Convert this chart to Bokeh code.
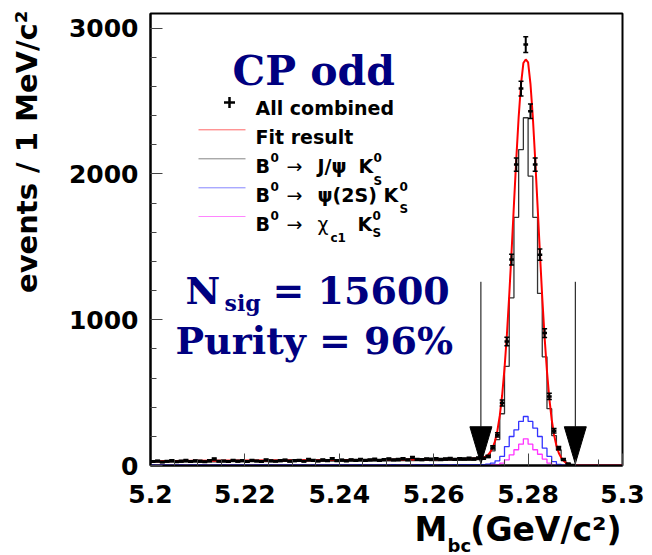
import numpy as np
from bokeh.plotting import figure
from bokeh.models import Label, Range1d, FixedTicker, NumeralTickFormatter
from bokeh.embed import file_html
from bokeh.resources import INLINE

# ---------------- data ----------------
bin_edges = np.round(np.linspace(5.2, 5.3, 101), 4)
bin_centers = (bin_edges[:-1] + bin_edges[1:]) / 2

data_counts = [
    27, 31, 24, 29, 33, 26, 30, 35, 28, 32,
    30, 26, 34, 45, 29, 31, 27, 36, 30, 33,
    28, 35, 31, 27, 38, 32, 29, 34, 37, 30,
    33, 36, 29, 41, 35, 31, 38, 33, 46, 34,
    37, 32, 39, 36, 41, 35, 38, 43, 36, 40,
    44, 38, 41, 47, 39, 55, 42, 40, 45, 43,
    46, 41, 44, 48, 42, 47, 45, 49, 44, 51,
    50, 62, 124, 210, 428, 851, 1412, 2064, 2585, 2887,
    2430, 2064, 1446, 908, 474, 238, 119, 41, 12, 3,
    0, 0, 0, 0, 0, 0, 0, 0, 0, 0]

jpsi_ks = [
    22, 23, 22, 24, 23, 23, 24, 24, 23, 25,
    24, 25, 24, 25, 26, 25, 25, 26, 25, 26,
    26, 27, 26, 27, 27, 26, 28, 27, 28, 28,
    27, 29, 28, 29, 28, 30, 29, 29, 30, 29,
    30, 31, 30, 31, 31, 30, 32, 31, 32, 32,
    32, 33, 32, 33, 34, 33, 33, 34, 35, 34,
    34, 35, 35, 36, 35, 36, 37, 36, 37, 40,
    42, 55, 100, 178, 355, 680, 1150, 1702, 2167, 2385,
    1985, 1702, 1180, 745, 390, 205, 105, 35, 12, 3,
    0, 0, 0, 0, 0, 0, 0, 0, 0, 0]

psi2s_ks = [
    4, 3, 4, 4, 3, 4, 4, 3, 4, 4,
    4, 4, 3, 4, 4, 4, 3, 4, 4, 4,
    4, 3, 4, 4, 4, 4, 3, 4, 4, 4,
    4, 4, 4, 3, 4, 4, 4, 4, 4, 4,
    4, 4, 4, 4, 5, 4, 4, 4, 4, 4,
    4, 5, 4, 4, 4, 4, 5, 4, 4, 5,
    4, 5, 5, 4, 5, 5, 5, 5, 5, 5,
    6, 10, 16, 32, 62, 130, 199, 245, 302, 336,
    302, 256, 199, 119, 62, 27, 8, 2, 0, 0,
    0, 0, 0, 0, 0, 0, 0, 0, 0, 0]

chic1_ks = [
    1, 1, 2, 1, 1, 1, 2, 1, 1, 1,
    1, 2, 1, 1, 1, 1, 2, 1, 1, 1,
    1, 1, 2, 1, 1, 1, 1, 2, 1, 1,
    1, 2, 1, 1, 1, 2, 1, 1, 1, 2,
    1, 1, 2, 1, 1, 2, 1, 1, 2, 1,
    2, 1, 1, 2, 1, 2, 1, 2, 1, 2,
    2, 1, 2, 2, 1, 2, 2, 2, 2, 2,
    2, 3, 4, 6, 16, 39, 73, 108, 146, 183,
    146, 108, 77, 44, 16, 3, 1, 0, 0, 0,
    0, 0, 0, 0, 0, 0, 0, 0, 0, 0]

fit_x = [5.200, 5.210, 5.220, 5.230, 5.240, 5.250, 5.260, 5.265, 5.268, 5.270,
         5.2710, 5.2715, 5.2720, 5.2725, 5.2730, 5.2735, 5.2740, 5.2745, 5.2750, 5.2755,
         5.2760, 5.2765, 5.2770, 5.2775, 5.2780, 5.2785, 5.2790, 5.2795, 5.2800, 5.2805,
         5.2810, 5.2815, 5.2820, 5.2825, 5.2830, 5.2835, 5.2840, 5.2845, 5.2850, 5.2855,
         5.2860, 5.2865, 5.2870, 5.2875, 5.2880, 5.2885, 5.2890, 5.2895, 5.2900, 5.3000]
fit_y = [30, 32, 34, 36, 38, 40, 43, 45, 47, 52,
         61, 72, 92, 122, 168, 240, 342, 482, 665, 893,
         1165, 1468, 1790, 2105, 2390, 2615, 2760, 2785, 2765, 2618,
         2390, 2100, 1784, 1460, 1150, 877, 645, 458, 315, 210,
         136, 86, 54, 33, 19, 10, 4, 1, 0, 0]

cut_edges = [5.27, 5.29]       # signal-region arrows
arrow_top = 1260

x_ticks = [5.2, 5.22, 5.24, 5.26, 5.28, 5.3]
y_ticks = [0, 1000, 2000, 3000]

# ---------------- layout constants (pixels) ----------------
W, H = 652, 555
B_LEFT, B_RIGHT, B_TOP, B_BOTTOM = 150, 30, 13, 90
FRAME_W = W - B_LEFT - B_RIGHT
FRAME_H = H - B_TOP - B_BOTTOM
XMIN, XMAX, YMIN, YMAX = 5.2, 5.3, 0, 3100
FRAME_L = B_LEFT
FRAME_R = B_LEFT + FRAME_W
FRAME_B = B_TOP + FRAME_H
PXX = FRAME_W / (XMAX - XMIN)
PXY = FRAME_H / (YMAX - YMIN)

# estimated boxes of the side-panel labels (page px)
AXIS_Y_W = 82          # y-axis panel thickness
AXIS_X_H = 48          # x-axis panel thickness
YT_SIZE, XT_SIZE, SUB_SIZE = 29, 33, 18
YT_W = YT_SIZE * 1.17
XT_H = XT_SIZE * 1.17
LEFT_YT_L = FRAME_L - AXIS_Y_W - YT_W
BELOW_XT_B = FRAME_B + AXIS_X_H + XT_H
RIGHT_L = FRAME_R


def X(px):
    return XMIN + (px - FRAME_L) / PXX


def Y(py):
    return (FRAME_B - py) / PXY


p = figure(width=W, height=H, output_backend="svg", toolbar_location=None,
           x_range=Range1d(XMIN, XMAX), y_range=Range1d(YMIN, YMAX),
           min_border_left=B_LEFT, min_border_right=B_RIGHT,
           min_border_top=B_TOP, min_border_bottom=B_BOTTOM)
p.xgrid.visible = False
p.ygrid.visible = False
p.outline_line_color = "black"
p.outline_line_width = 2
p.outline_line_alpha = 1
p.background_fill_color = "white"
p.border_fill_color = "white"

xa = p.xaxis[0]
ya = p.yaxis[0]
xa.ticker = FixedTicker(ticks=x_ticks,
                        minor_ticks=list(np.round(np.arange(5.2, 5.3001, 0.005), 3)))
ya.ticker = FixedTicker(ticks=y_ticks, minor_ticks=list(range(0, 3101, 200)))
xa.formatter = NumeralTickFormatter(format="0.0[0]")
for ax in (xa, ya):
    ax.major_tick_in = 12
    ax.major_tick_out = 0
    ax.minor_tick_in = 6
    ax.minor_tick_out = 0
    ax.major_tick_line_color = "#444444"
    ax.minor_tick_line_color = "#444444"
    ax.axis_line_width = 2
    ax.axis_line_color = "black"
    ax.major_label_text_font = "DejaVu Sans"
    ax.major_label_text_font_style = "bold"
    ax.major_label_text_font_size = "25px"
    ax.major_label_text_color = "black"
xa.major_label_standoff = 19
ya.major_label_standoff = 12

# ---------------- histograms ----------------
def step_y(vals):
    return list(vals) + [vals[-1]]

p.step(x=bin_edges, y=step_y(chic1_ks), mode="after", line_color="#ff33ff", line_width=1.3)
p.step(x=bin_edges, y=step_y(psi2s_ks), mode="after", line_color="#3333ff", line_width=1.3)
p.step(x=bin_edges, y=step_y(jpsi_ks), mode="after", line_color="#333333", line_width=1.3)

# fit
p.line(fit_x, fit_y, line_color="#ff0000", line_width=2)

# data points with errors
dc = np.array(data_counts, dtype=float)
mask = dc > 0
xc = bin_centers[mask]
yc = dc[mask]
err = np.sqrt(yc)
hw = 0.0005
p.segment(x0=xc, y0=yc - err, x1=xc, y1=yc + err, line_color="black", line_width=2)
p.segment(x0=xc - hw, y0=yc, x1=xc + hw, y1=yc, line_color="black", line_width=2.5)
p.scatter(x=np.concatenate([xc, xc]), y=np.concatenate([yc - err, yc + err]),
          marker="dash", size=5, line_color="black", line_width=1.5)

# arrows
head_half = 11 / PXX
head_len = 37 / PXY
tip = 12
p.segment(x0=cut_edges, y0=[arrow_top] * 2, x1=cut_edges, y1=[tip + head_len] * 2,
          line_color="black", line_width=1)
p.patches(xs=[[c - head_half, c + head_half, c] for c in cut_edges],
          ys=[[tip + head_len, tip + head_len, tip] for _ in cut_edges],
          fill_color="black", line_color="black")

# ---------------- texts ----------------
def lab(text, px, py, size, weight="bold", color="black", font="DejaVu Sans",
        align="left", angle=0.0, side=None, ox=None, oy=None):
    # ox / oy: page position of the label box origin (left / bottom)
    if ox is None:
        ox = FRAME_L
    if oy is None:
        oy = FRAME_B
    lbl = Label(x=px - ox, y=oy - py, x_units="screen", y_units="screen",
                text=text, text_font=font,
                text_font_size=f"{size}px", text_font_style=weight,
                text_color=color, text_align=align,
                text_baseline="alphabetic", angle=angle)
    if side is None:
        p.add_layout(lbl)
    else:
        p.add_layout(lbl, side)

NAVY = "#000080"
lab("CP odd", 232, 70, 41, font="DejaVu Serif", color=NAVY)
lab("N", 185, 290, 38, font="DejaVu Serif", color=NAVY)
lab("sig", 224, 302, 22, font="DejaVu Serif", color=NAVY)
lab("= 15600", 272, 290, 38, font="DejaVu Serif", color=NAVY)
lab("Purity = 96%", 175, 340, 38, font="DejaVu Serif", color=NAVY)

# legend
LX0, LX1 = 198, 245
p.scatter(x=[X(229)], y=[Y(102)], marker="cross", size=11, line_color="black", line_width=2.5)
legend_rows = [("#ff0000", 129.3), ("#333333", 158.3), ("#3333ff", 187.3), ("#ff33ff", 216.0)]
for col, py in legend_rows:
    p.line([X(LX0), X(LX1)], [Y(py), Y(py)], line_color=col, line_width=1, line_alpha=0.6)

FS, SS = 19, 12
lab("All combined", 255, 107, FS)
lab("Fit result", 255, 136.7, FS)
# row 3
lab("B", 255, 165, FS); lab("0", 270, 157, SS); lab("→", 286, 165, FS, weight="normal")
lab("J/ψ", 317, 165, FS); lab("K", 358, 165, FS); lab("0", 373, 157, SS); lab("S", 373, 180, SS)
# row 4
lab("B", 255, 194, FS); lab("0", 270, 186, SS); lab("→", 286, 194, FS, weight="normal")
lab("ψ(2S)", 317, 194, FS); lab("K", 383, 194, FS); lab("0", 399, 186, SS); lab("S", 399, 208, SS)
# row 5
lab("B", 255, 223, FS); lab("0", 270, 215, SS); lab("→", 286, 223, FS, weight="normal")
lab("χ", 317, 223, FS, weight="normal"); lab("c1", 330, 237, SS)
lab("K", 357, 223, FS); lab("0", 372, 215, SS); lab("S", 372, 232, SS)

# axis titles (side panels so they are not clipped to the frame)
lab("events / 1 MeV/c²", 30, 10, YT_SIZE, align="right", angle=np.pi / 2,
    side="left", ox=LEFT_YT_L)
lab("M\u00a0\u00a0(GeV/c²)", 414, 537, XT_SIZE, side="below", oy=BELOW_XT_B)
lab("bc", 447, 545, SUB_SIZE, side="right", ox=RIGHT_L)

open("out.html", "w").write(file_html(p, INLINE))
